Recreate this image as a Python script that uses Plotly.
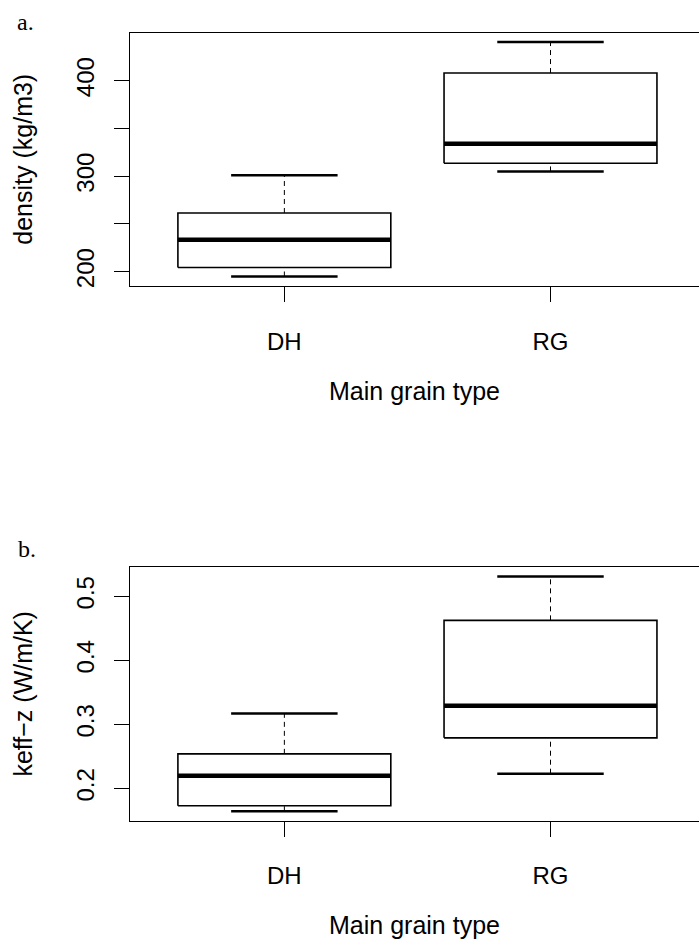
import plotly.graph_objects as go

# ---------------- data ----------------
categories = ["DH", "RG"]

# panel a: density (kg/m3)
dens_lower = [195, 305]
dens_q1 = [204.5, 313.5]
dens_median = [233.5, 334]
dens_q3 = [261.5, 408]
dens_upper = [301, 440.5]

# panel b: keff-z (W/m/K)
keff_lower = [0.1645, 0.223]
keff_q1 = [0.173, 0.279]
keff_median = [0.22, 0.329]
keff_q3 = [0.254, 0.4625]
keff_upper = [0.317, 0.531]

dens_ticks = [200, 250, 300, 350, 400]
dens_ticktext = ["200", "", "300", "", "400"]
keff_ticks = [0.2, 0.3, 0.4, 0.5]
keff_ticktext = ["0.2", "0.3", "0.4", "0.5"]

FONT = "Liberation Sans, Arial, Helvetica, sans-serif"
BOXW = 0.8
CAPW = 0.4

fig = go.Figure()


def add_boxes(lower, q1, med, q3, upper, xa, ya):
    for i, _ in enumerate(categories):
        c = i + 1
        l, r = c - BOXW / 2, c + BOXW / 2
        # whiskers (dashed)
        fig.add_trace(go.Scatter(x=[c, c], y=[q3[i], upper[i]], mode="lines",
                                 line=dict(color="black", width=1, dash="5px,4px"),
                                 xaxis=xa, yaxis=ya, hoverinfo="skip"))
        fig.add_trace(go.Scatter(x=[c, c], y=[lower[i], q1[i]], mode="lines",
                                 line=dict(color="black", width=1, dash="5px,4px"),
                                 xaxis=xa, yaxis=ya, hoverinfo="skip"))
        # staples
        for v in (lower[i], upper[i]):
            fig.add_trace(go.Scatter(x=[c - CAPW / 2, c + CAPW / 2], y=[v, v], mode="lines",
                                     line=dict(color="black", width=2.5),
                                     xaxis=xa, yaxis=ya, hoverinfo="skip"))
        # box
        fig.add_trace(go.Scatter(x=[l, r, r, l, l], y=[q1[i], q1[i], q3[i], q3[i], q1[i]],
                                 mode="lines", line=dict(color="black", width=1.6),
                                 xaxis=xa, yaxis=ya, hoverinfo="skip"))
        # median
        fig.add_trace(go.Scatter(x=[l, r], y=[med[i], med[i]], mode="lines",
                                 line=dict(color="black", width=4.5),
                                 xaxis=xa, yaxis=ya, hoverinfo="skip"))


add_boxes(dens_lower, dens_q1, dens_median, dens_q3, dens_upper, "x", "y")
add_boxes(keff_lower, keff_q1, keff_median, keff_q3, keff_upper, "x2", "y2")


def padded(lo, hi):
    d = hi - lo
    return [lo - 0.04 * d, hi + 0.04 * d]


dens_range = padded(min(dens_lower), max(dens_upper))
keff_range = padded(min(keff_lower), max(keff_upper))

W, H = 699, 944
ML = 130

xcommon = dict(range=[0.42, 2.558], tickvals=[1, 2], ticktext=categories,
               showline=True, mirror=True, linecolor="black", linewidth=1.2,
               ticks="outside", ticklen=15, tickwidth=1, tickcolor="black",
               showgrid=False, zeroline=False,
               tickfont=dict(family=FONT, size=24, color="black"),
               ticklabelstandoff=19,
               title=dict(text="Main grain type", font=dict(family=FONT, size=25, color="black"),
                          standoff=28))
ycommon = dict(showline=True, mirror=False, linecolor="black", linewidth=1.2,
               ticks="outside", ticklen=15, tickwidth=1, tickcolor="black",
               showgrid=False, zeroline=False, tickangle=-90,
               tickfont=dict(family=FONT, size=24, color="black"),
               ticklabelstandoff=10)

fig.update_layout(
    width=W, height=H,
    margin=dict(l=ML, r=0, t=0, b=0),
    paper_bgcolor="white", plot_bgcolor="white",
    showlegend=False,
    xaxis=dict(domain=[0, 1], anchor="y", **xcommon),
    xaxis2=dict(domain=[0, 1], anchor="y2", **xcommon),
    yaxis=dict(domain=[(H - 286.5) / H, (H - 32.7) / H], anchor="x", range=dens_range,
               tickvals=dens_ticks, ticktext=dens_ticktext,
               title=dict(text="density (kg/m3)", font=dict(family=FONT, size=25, color="black"),
                          standoff=32),
               **ycommon),
    yaxis2=dict(domain=[(H - 822.3) / H, (H - 568.3) / H], anchor="x2", range=keff_range,
                tickvals=keff_ticks, ticktext=keff_ticktext,
                title=dict(text="keff\u2212z (W/m/K)", font=dict(family=FONT, size=25, color="black"),
                           standoff=32),
                **ycommon),
)

pw = W - ML
for lab, px, py in (("a.", 15, 37), ("b.", 16, 565)):
    fig.add_annotation(text=lab, xref="paper", yref="paper",
                       x=(px - ML) / pw, y=(H - py) / H, xanchor="left", yanchor="bottom",
                       showarrow=False,
                       font=dict(family="Liberation Serif, Times New Roman, serif", size=24, color="black"))

fig.write_html("out.html")
